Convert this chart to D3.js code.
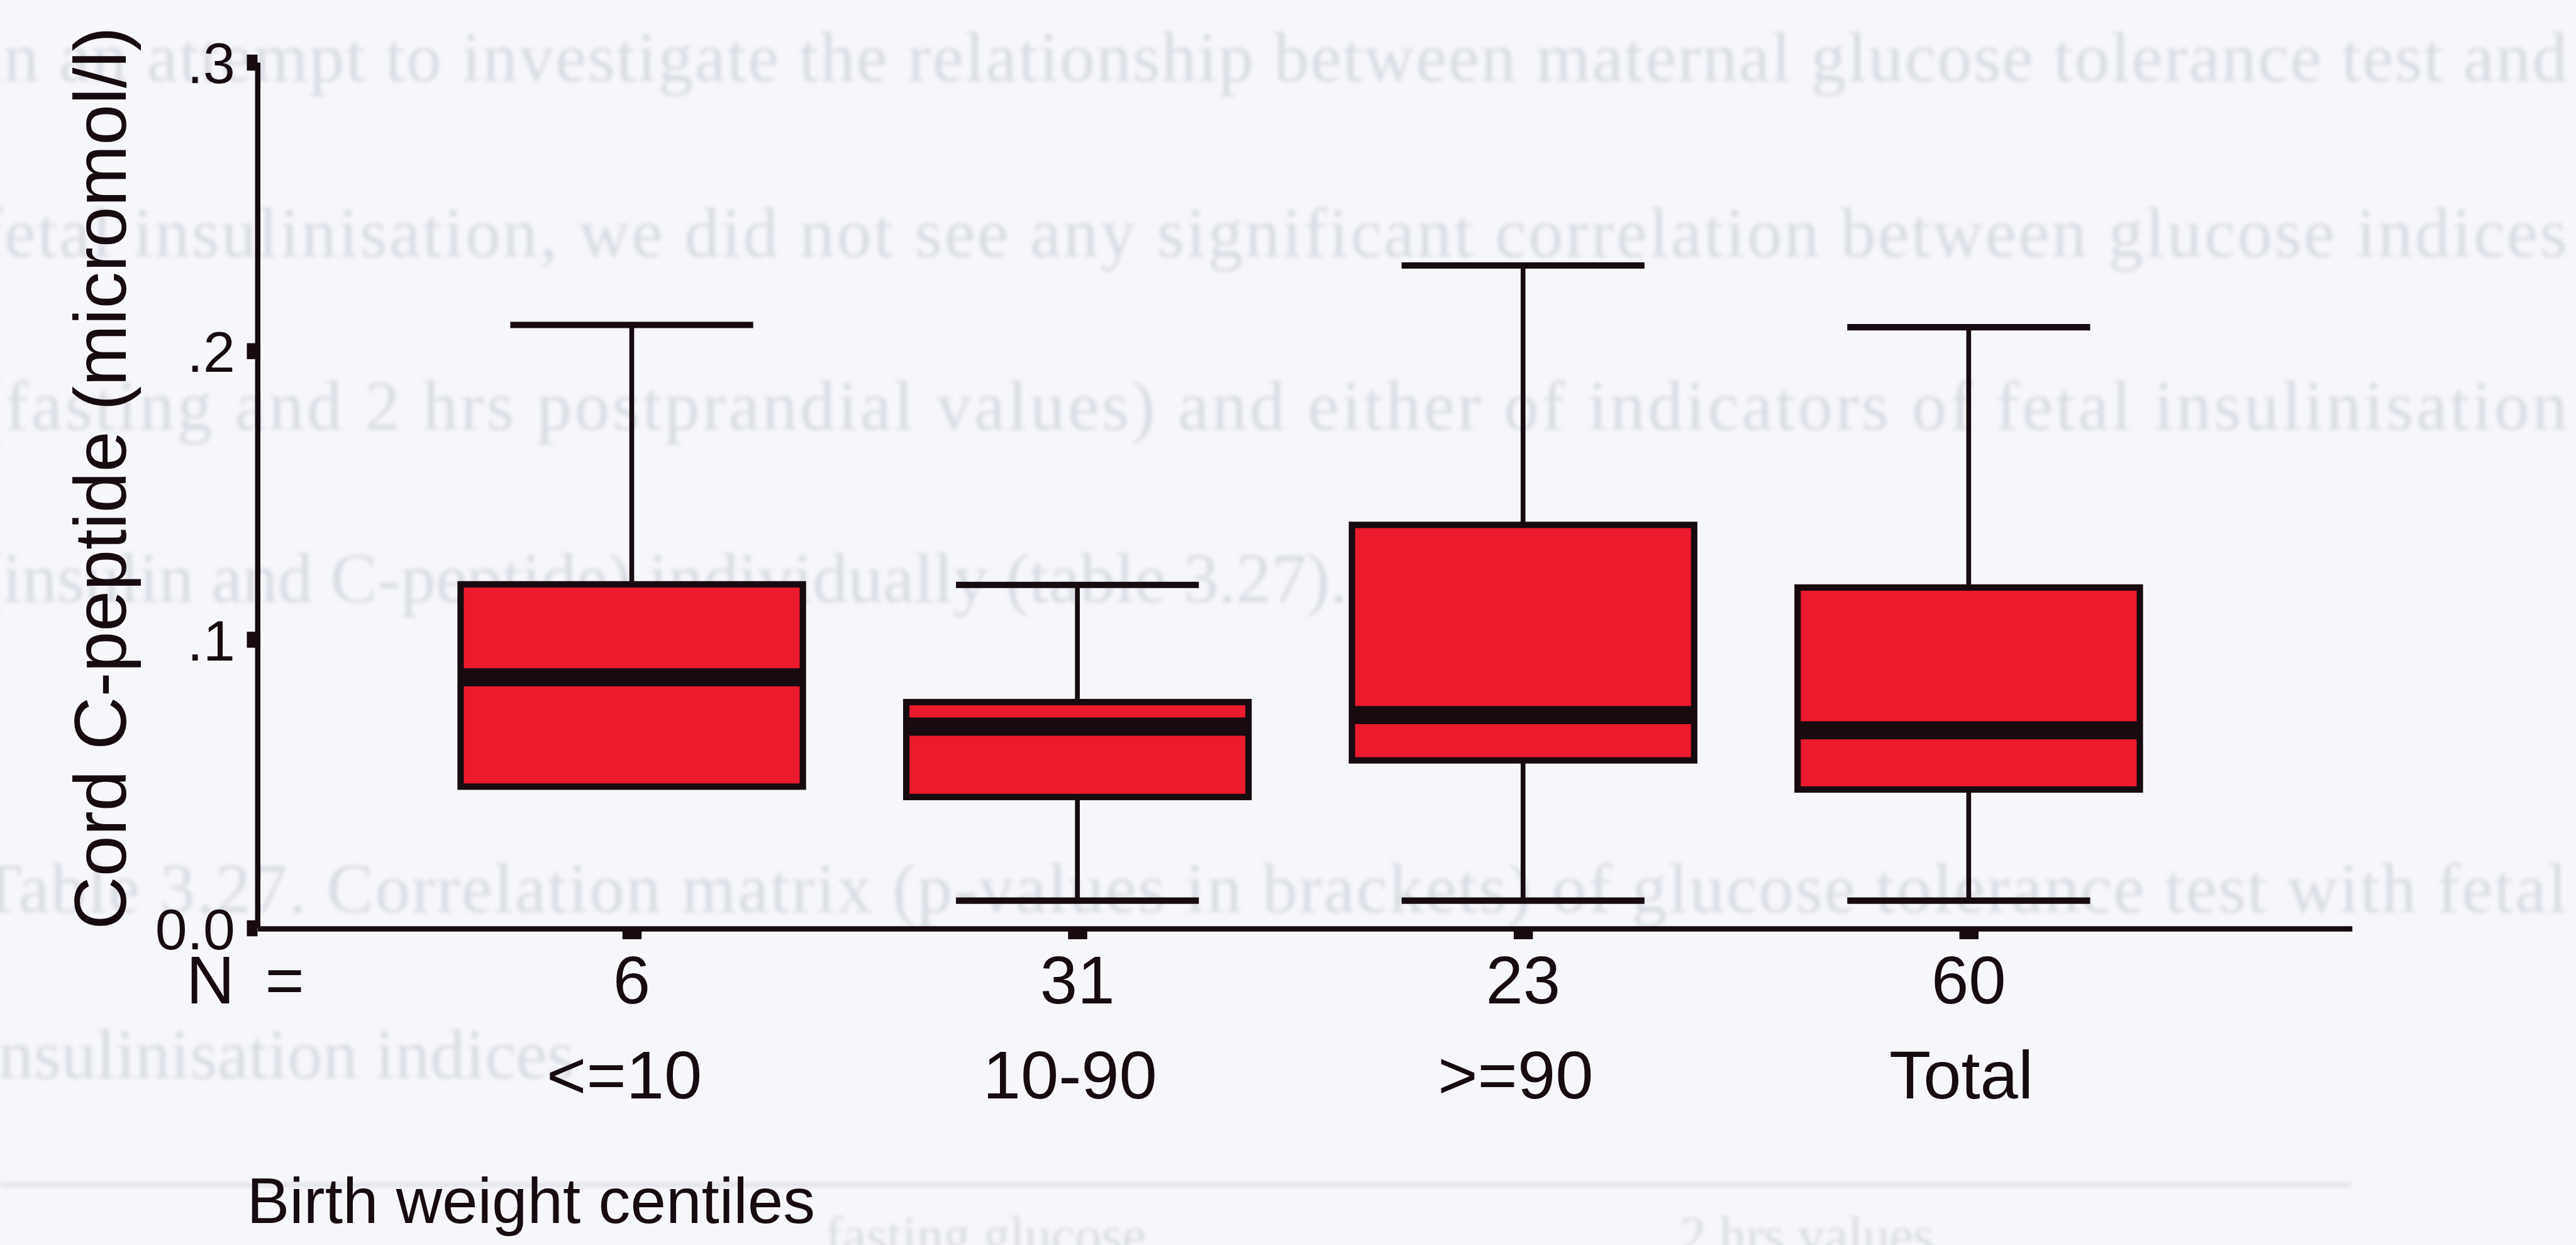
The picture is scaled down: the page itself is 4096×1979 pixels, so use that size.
<!DOCTYPE html>
<html>
<head>
<meta charset="utf-8">
<script src="https://cdn.jsdelivr.net/npm/d3@7"></script>
<style>
  html, body { margin: 0; padding: 0; background: #f6f7fb; overflow: hidden; }
  svg { display: block; }
</style>
</head>
<body>
<svg id="chart" width="4096" height="1979" viewBox="0 0 4836 2337"></svg>
<script>
// Cord C-peptide by birth weight centile group (box plot summary values)
const groups = ["<=10", "10-90", ">=90", "Total"];
const counts = [6, 31, 23, 60];
const whiskerLow = [0.049, 0.0095, 0.0095, 0.0095];
const q1 = [0.049, 0.0454, 0.0581, 0.048];
const medians = [0.0869, 0.0698, 0.0738, 0.0685];
const q3 = [0.1191, 0.0783, 0.1397, 0.118];
const whiskerHigh = [0.209, 0.1189, 0.2296, 0.2082];
const yTicks = [0, 0.1, 0.2, 0.3];
const yTickLabels = ["0.0", ".1", ".2", ".3"];

// Body text of the page printed behind the figure
const pageLines = [
  "In an attempt to investigate the relationship between maternal glucose tolerance test and",
  "fetal insulinisation, we did not see any significant correlation between glucose indices",
  "(fasting and 2 hrs postprandial values) and either of indicators of fetal insulinisation",
  "(insulin and C-peptide) individually (table 3.27).",
  "Table 3.27. Correlation matrix (p-values in brackets) of glucose tolerance test with fetal",
  "insulinisation indices"
];
const pageJustified = [true, true, true, false, true, false];
const pageBaselines = [152, 482, 806, 1130, 1712, 2024];
const tableHeads = ["fasting glucose", "2 hrs values"];
const tableHeadX = [1850, 3392];

const ink = "#170b10";
const boxFill = "#ec1a2d";

const svg = d3.select("#chart");
svg.append("rect").attr("width", 4836).attr("height", 2337).attr("fill", "#f6f7fb");

const defs = svg.append("defs");
defs.append("filter").attr("id", "soft")
  .append("feGaussianBlur").attr("stdDeviation", 3.5);

// faint page text
const page = svg.append("g").attr("filter", "url(#soft)")
  .attr("fill", "#d9dce3")
  .style("font-family", "'Liberation Serif', 'Times New Roman', serif")
  .style("font-size", "132px");

pageLines.forEach((t, i) => {
  const el = page.append("text").attr("x", -40).attr("y", pageBaselines[i]).text(t);
  if (pageJustified[i]) el.attr("textLength", 4860).attr("lengthAdjust", "spacing");
});
page.append("rect").attr("x", 0).attr("y", 2221).attr("width", 4415).attr("height", 6);
tableHeads.forEach((t, i) => {
  page.append("text").attr("x", tableHeadX[i]).attr("y", 2352)
    .attr("text-anchor", "middle").style("font-size", "100px").text(t);
});

// scales
const x = d3.scalePoint().domain(groups).range([483, 4416]).padding(0.85).align(0.494);
const step = x.step();
const boxW = step * 0.768;
const capW = step * 0.545;
const y = d3.scaleLinear().domain([0, 0.3]).range([1742, 117]);

const plot = svg.append("g");

// y axis
const yAxis = d3.axisLeft(y)
  .tickValues(yTicks)
  .tickFormat((d, i) => yTickLabels[i])
  .tickSize(20)
  .tickSizeOuter(0)
  .tickPadding(22);
const gy = plot.append("g").attr("transform", "translate(483,0)").call(yAxis);
gy.select(".domain").attr("stroke", ink).attr("stroke-width", 10);
gy.selectAll(".tick line").attr("stroke", ink).attr("stroke-width", 30);
gy.selectAll(".tick text").attr("fill", ink)
  .style("font-family", "'Liberation Sans', Arial, sans-serif")
  .style("font-size", "108px")
  .attr("dy", "0.36em");

// x axis
const xAxis = d3.axisBottom(x).tickSize(20).tickSizeOuter(0).tickFormat("");
const gx = plot.append("g").attr("transform", "translate(0,1743)").call(xAxis);
gx.select(".domain").attr("stroke", ink).attr("stroke-width", 10);
gx.selectAll(".tick line").attr("stroke", ink).attr("stroke-width", 36);

// boxes
const data = groups.map((g, i) => ({
  g, n: counts[i], lo: whiskerLow[i], q1: q1[i], med: medians[i], q3: q3[i], hi: whiskerHigh[i]
}));

const box = plot.selectAll(".box").data(data).enter().append("g").attr("class", "box");

// whisker stems
box.append("line")
  .attr("x1", d => x(d.g)).attr("x2", d => x(d.g))
  .attr("y1", d => y(d.hi)).attr("y2", d => y(d.q3))
  .attr("stroke", ink).attr("stroke-width", 9);
box.filter(d => d.lo < d.q1).append("line")
  .attr("x1", d => x(d.g)).attr("x2", d => x(d.g))
  .attr("y1", d => y(d.q1)).attr("y2", d => y(d.lo))
  .attr("stroke", ink).attr("stroke-width", 9);

// whisker caps
box.append("line")
  .attr("x1", d => x(d.g) - capW / 2).attr("x2", d => x(d.g) + capW / 2)
  .attr("y1", d => y(d.hi)).attr("y2", d => y(d.hi))
  .attr("stroke", ink).attr("stroke-width", 12);
box.filter(d => d.lo < d.q1).append("line")
  .attr("x1", d => x(d.g) - capW / 2).attr("x2", d => x(d.g) + capW / 2)
  .attr("y1", d => y(d.lo)).attr("y2", d => y(d.lo))
  .attr("stroke", ink).attr("stroke-width", 12);

// interquartile box
box.append("rect")
  .attr("x", d => x(d.g) - boxW / 2)
  .attr("y", d => y(d.q3))
  .attr("width", boxW)
  .attr("height", d => y(d.q1) - y(d.q3))
  .attr("fill", boxFill)
  .attr("stroke", ink).attr("stroke-width", 12);

// median
box.append("line")
  .attr("x1", d => x(d.g) - boxW / 2).attr("x2", d => x(d.g) + boxW / 2)
  .attr("y1", d => y(d.med)).attr("y2", d => y(d.med))
  .attr("stroke", ink).attr("stroke-width", 34);

// labels
const label = svg.append("g")
  .attr("fill", ink)
  .style("font-family", "'Liberation Sans', Arial, sans-serif");

label.append("text").attr("x", 349).attr("y", 1884)
  .style("font-size", "126px").attr("textLength", 222).attr("lengthAdjust", "spacing")
  .text("N =");

label.selectAll(".count").data(data).enter().append("text")
  .attr("class", "count")
  .attr("x", d => x(d.g)).attr("y", 1884)
  .attr("text-anchor", "middle")
  .style("font-size", "126px")
  .text(d => d.n);

label.selectAll(".grp").data(data).enter().append("text")
  .attr("class", "grp")
  .attr("x", d => x(d.g) - 14).attr("y", 2062)
  .attr("text-anchor", "middle")
  .style("font-size", "128px")
  .text(d => d.g);

label.append("text").attr("x", 463).attr("y", 2296)
  .style("font-size", "120px").text("Birth weight centiles");

label.append("text")
  .attr("transform", "translate(236,1745) rotate(-90)")
  .style("font-size", "138px")
  .text("Cord C-peptide (micromol/l)");
</script>
</body>
</html>
